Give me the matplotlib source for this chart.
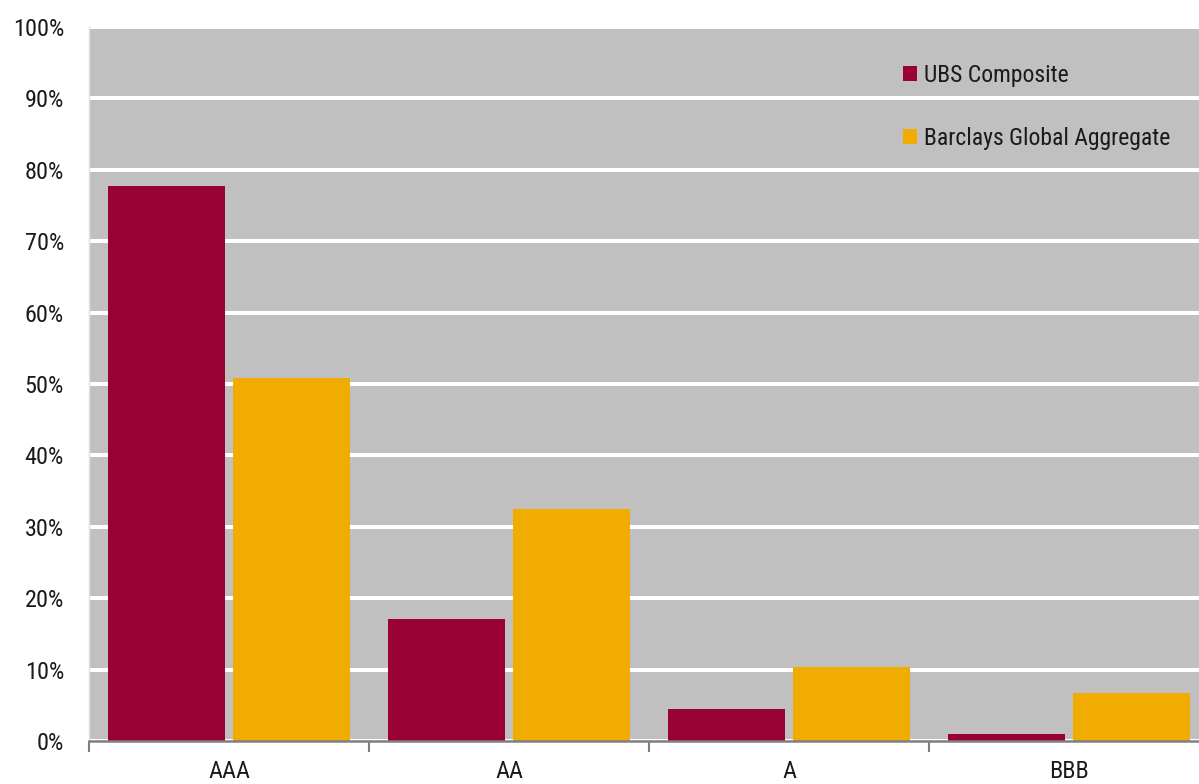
import matplotlib
matplotlib.use("Agg")
import matplotlib.pyplot as plt
import numpy as np

categories = ["AAA", "AA", "A", "BBB"]
ubs_composite = [77.7, 17.1, 4.5, 1.0]
barclays_global = [50.8, 32.5, 10.4, 6.7]
series_names = ["UBS Composite", "Barclays Global Aggregate"]
yticks = list(range(0, 101, 10))

plt.rcParams['font.family'] = ['Roboto Condensed', 'Archivo Narrow', 'Asap Condensed',
                               'Barlow Condensed', 'DejaVu Sans']

W, H = 1199, 784
fig = plt.figure(figsize=(W / 100, H / 100), dpi=100)
left, right, top, bottom = 89, 1209, 27, 741
ax = fig.add_axes([left / W, 1 - bottom / H, (right - left) / W, (bottom - top) / H])
ax.set_facecolor("#C0C0C0")

x = np.arange(len(categories))
bw = 0.418
off = 0.2216
ax.bar(x - off, ubs_composite, bw, color="#990033", label=series_names[0], zorder=3)
ax.bar(x + off, barclays_global, bw, color="#F0AC00", label=series_names[1], zorder=3)

ax.set_xlim(-0.5, len(categories) - 0.5)
ax.set_ylim(0, 100)
ax.set_yticks(yticks)
ax.set_yticklabels([f"{v}%" for v in yticks])
ax.yaxis.grid(True, color="white", linewidth=2.9, zorder=1)
ax.set_axisbelow(True)
ax.tick_params(axis='y', length=0, pad=18, labelsize=17.5, labelcolor="#1a1a1a")

ax.set_xticks(x)
ax.set_xticklabels(categories)
ax.set_xticks(np.arange(len(categories) + 1) - 0.5, minor=True)
ax.tick_params(axis='x', which='major', length=0, pad=14, labelsize=17.5, labelcolor="#1a1a1a")
ax.tick_params(axis='x', which='minor', length=8, width=1.5, color="#808080", direction='out')

for s in ["top", "right"]:
    ax.spines[s].set_visible(False)
ax.spines["left"].set_color("#E0E0E0")
ax.spines["left"].set_linewidth(1)
ax.spines["bottom"].set_color("#808080")
ax.spines["bottom"].set_linewidth(1.8)
ax.spines["bottom"].set_zorder(4)

leg = ax.legend(loc="upper left", bbox_to_anchor=(891 / W, 1 - 52 / H),
                bbox_transform=fig.transFigure, frameon=False, fontsize=17,
                handlelength=0.6, handleheight=0.6, handletextpad=0.3,
                labelspacing=1.7, borderpad=0)
for t in leg.get_texts():
    t.set_color("#1a1a1a")

fig.savefig("out.png", dpi=100)
